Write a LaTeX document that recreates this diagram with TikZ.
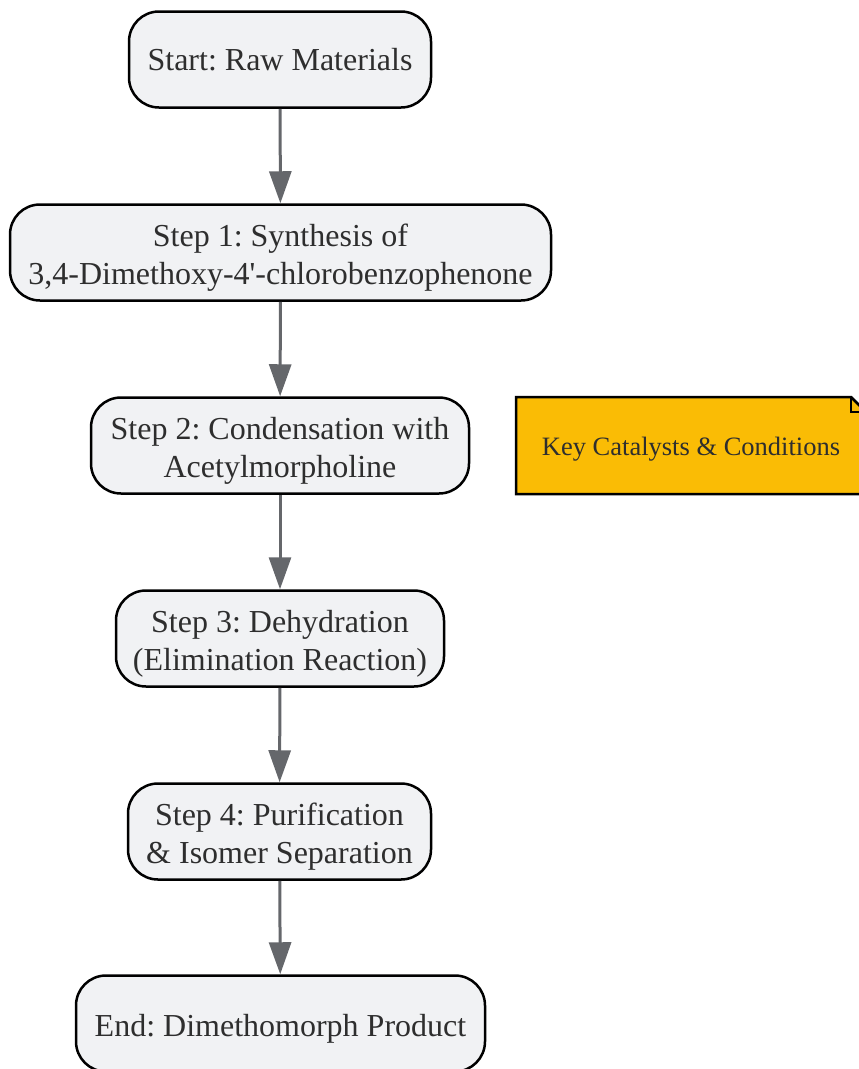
\documentclass[tikz,border=0pt]{standalone}
\usepackage{fontspec}
\setmainfont{Liberation Serif}
\usepackage{xcolor}
\usetikzlibrary{arrows.meta}

\definecolor{stepfill}{HTML}{F1F2F4}
\definecolor{linkgray}{HTML}{65676B}
\definecolor{notefill}{HTML}{FABC05}
\definecolor{textgray}{HTML}{2E2E2E}

\frenchspacing

\begin{document}
\begin{tikzpicture}[x=1pt, y=-1pt,
    stepbox/.style={draw=black, line width=2.5pt, fill=stepfill, rounded corners=30pt,
        align=center, text=textgray, minimum height=96pt, inner sep=0pt,
        font=\fontsize{32}{38}\selectfont},
    oneline/.style={text height=22.4pt, text depth=0pt},
    twoline/.style={text height=63pt, text depth=0pt},
    link/.style={draw=linkgray, line width=3pt, -{Triangle[length=32pt, width=22pt]}}]
    \useasboundingbox (0,0) rectangle (859,1069);
    \clip (0,0) rectangle (859,1069);

    \node[stepbox, oneline, minimum width=302pt] (S0) at (280, 59.5){Start: Raw Materials};
    \node[stepbox, twoline, minimum width=541pt] (S1) at (280.5, 252.5){Step 1: Synthesis of\\3,4-Dimethoxy-4\textquotesingle-chlorobenzophenone};
    \node[stepbox, twoline, minimum width=378pt] (S2) at (280, 445.5){Step 2: Condensation with\\Acetylmorpholine};
    \node[stepbox, twoline, minimum width=328pt] (S3) at (280, 638.5){Step 3: Dehydration\\(Elimination Reaction)};
    \node[stepbox, twoline, minimum width=303pt] (S4) at (279.5, 831.5){Step 4: Purification\\\& Isomer Separation};
    \node[stepbox, text height=26pt, text depth=0pt, minimum width=409pt] (S5) at (280.5, 1023.5){End: Dimethomorph Product};

    % note with folded corner
    \draw[line width=2.5pt, fill=notefill, line join=miter]
        (516, 397) -- (851, 397) -- (866, 412) -- (866, 494) -- (516, 494) -- cycle;
    \draw[line width=2pt] (851, 397) -- (851, 412) -- (866, 412);
    \node[text=textgray, font=\fontsize{26.5}{32}\selectfont, text height=19pt, text depth=0pt] (N) at (691, 445.5){Key Catalysts \& Conditions};

    \draw[link] (S0) -- (S1);
    \draw[link] (S1) -- (S2);
    \draw[link] (S2) -- (S3);
    \draw[link] (S3) -- (S4);
    \draw[link] (S4) -- (S5);
\end{tikzpicture}
\end{document}
